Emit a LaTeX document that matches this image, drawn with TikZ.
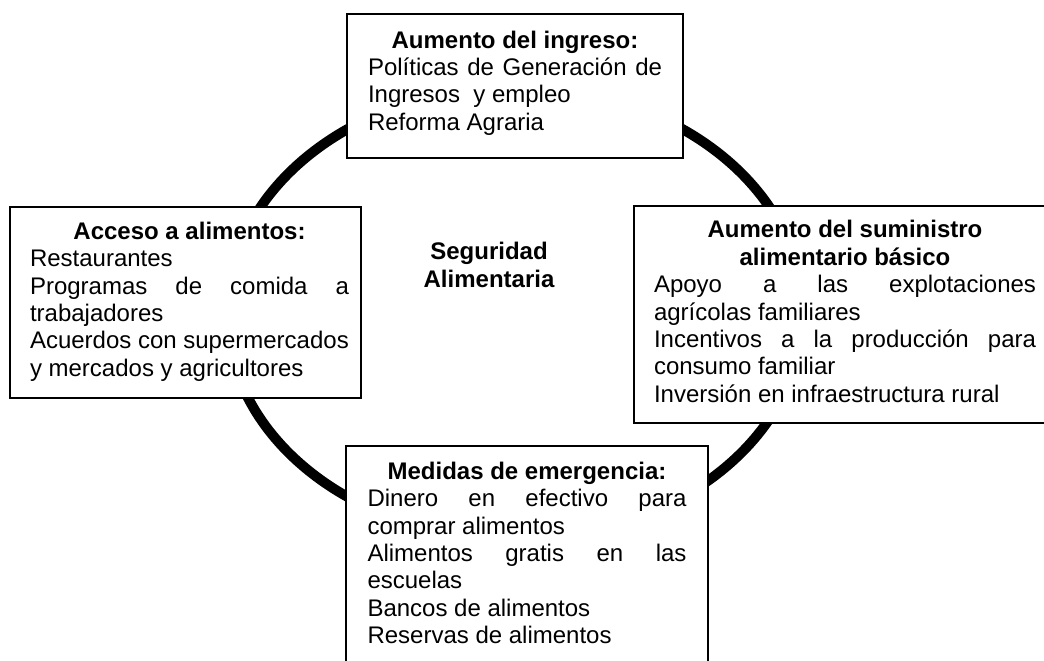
\documentclass[tikz,border=0pt]{standalone}
\usepackage{fontspec}
\setmainfont{Liberation Sans}
\begin{document}
\begin{tikzpicture}[x=0.5pt, y=-0.5pt,
		caja/.style={draw, line width=1pt, fill=white, anchor=north west, inner xsep=10pt, inner ysep=7.5pt, font=\fontsize{12}{13.7}\selectfont},
		aro/.style={line width=5pt},
		titulo/.style={align=center, inner sep=0pt, font=\fontsize{12}{13.7}\selectfont\bfseries}]
			\useasboundingbox (0,0) rectangle (1044,660);
			\draw[aro] (515,313) ellipse [x radius=288, y radius=226];
			\node[caja, inner xsep=10.5pt, inner ysep=8.4pt] (ingreso) at (346,13) {\parbox[t][55.2pt][t]{147pt}{%
				\makebox[\linewidth]{\bfseries Aumento del ingreso:}\\
				\makebox[\linewidth][s]{Políticas de Generación de}\\
				Ingresos\ \ y empleo\\
				Reforma Agraria}};
			\node[caja, inner xsep=6pt, inner ysep=7.4pt] (acceso) at (9,206) {\hspace*{4pt}\parbox[t][80.7pt][t]{159.5pt}{%
				\makebox[\linewidth]{\bfseries Acceso a alimentos:}\\
				Restaurantes\\
				\makebox[\linewidth][s]{Programas de comida a}\\
				trabajadores\\
				Acuerdos con supermercados\\
				y mercados y agricultores}};
			\node[caja, inner xsep=10pt, inner ysep=7.25pt] (suministro) at (633,205) {\parbox[t][93.85pt][t]{191pt}{%
				\makebox[\linewidth]{\bfseries Aumento del suministro}\\
				\makebox[\linewidth]{\bfseries alimentario básico}\\
				\makebox[\linewidth][s]{Apoyo a las explotaciones}\\
				agrícolas familiares\\
				\makebox[\linewidth][s]{Incentivos a la producción para}\\
				consumo familiar\\
				Inversión en infraestructura rural}};
			\node[caja, inner xsep=10.75pt, inner ysep=7.9pt] (emergencia) at (345,445) {\parbox[t][101.7pt][t]{159.5pt}{%
				\makebox[\linewidth]{\bfseries Medidas de emergencia:}\\
				\makebox[\linewidth][s]{Dinero en efectivo para}\\
				comprar alimentos\\
				\makebox[\linewidth][s]{Alimentos gratis en las}\\
				escuelas\\
				Bancos de alimentos\\
				Reservas de alimentos}};
			\node[titulo] (seguridad) at (489,265) {Seguridad\\Alimentaria};
		\end{tikzpicture}
\end{document}
